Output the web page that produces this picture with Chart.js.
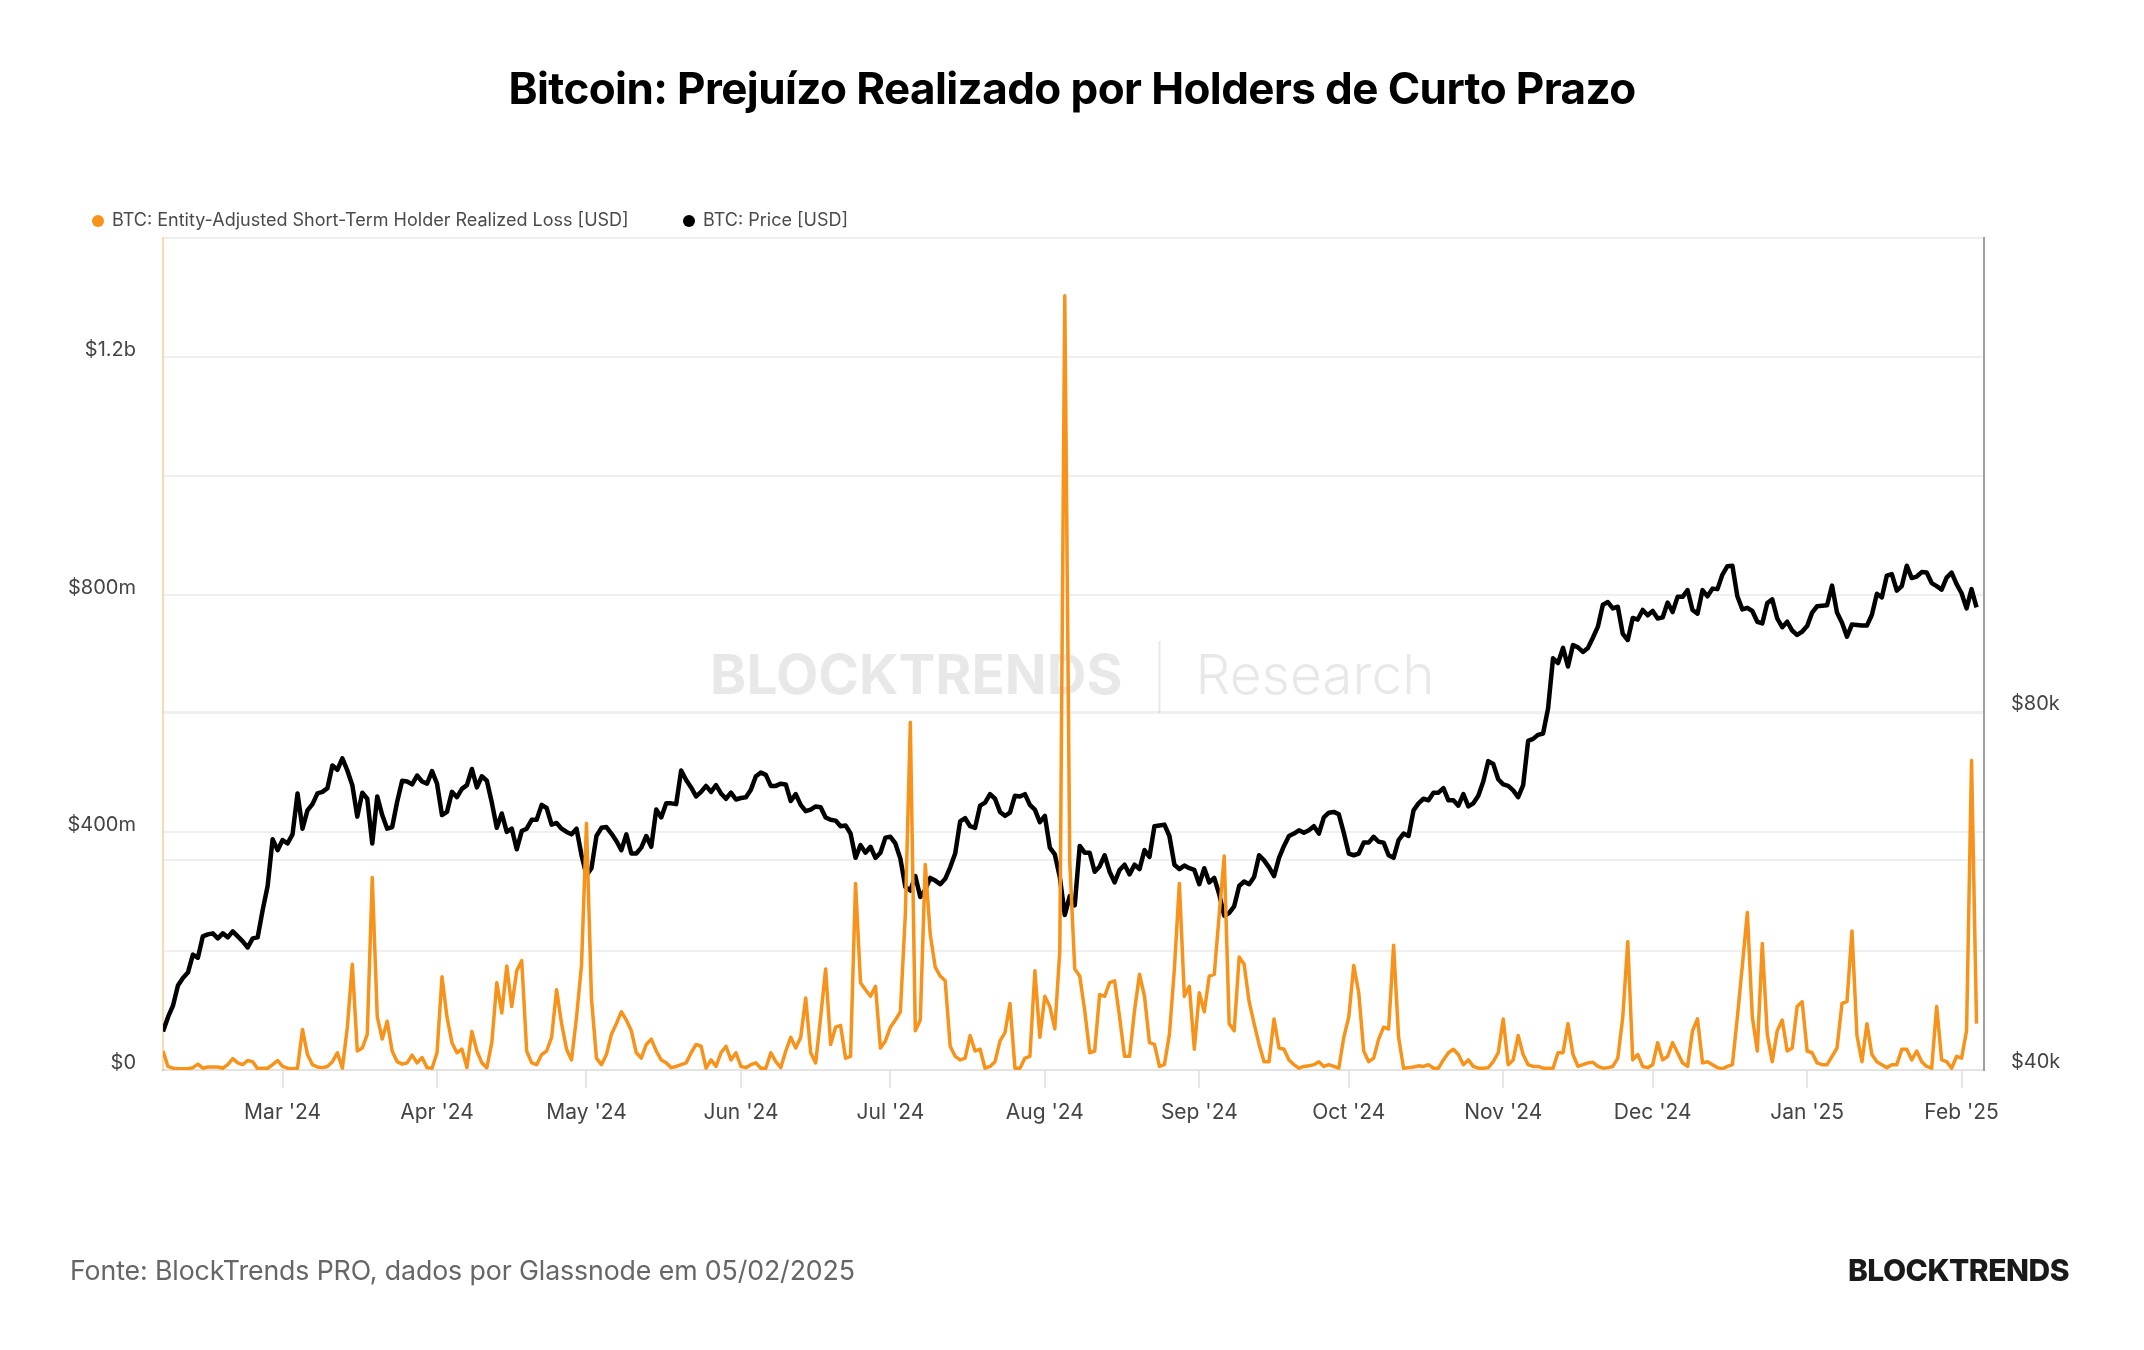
<!DOCTYPE html>
<html>
<head>
<meta charset="utf-8">
<title>Bitcoin: Prejuízo Realizado por Holders de Curto Prazo</title>
<script src="https://cdn.jsdelivr.net/npm/chart.js@4.4.1/dist/chart.umd.min.js"></script>
<style>
  html, body { margin: 0; padding: 0; background: #fff; }
  #page { position: relative; width: 2144px; height: 1350px; overflow: hidden; font-family: Inter, 'Noto Sans', sans-serif; }
  #chart { position: absolute; left: 0; top: 0; }
  .title { position: absolute; top: 62px; left: 0; width: 100%; text-align: center; font-size: 44px; line-height: 52px; font-weight: 700; letter-spacing: -0.6px; color: #000; }
  .legend-item { position: absolute; top: 208px; height: 24px; line-height: 24px; font-size: 18px; color: #4a4a4a; white-space: nowrap; }
  .legend-item .dot { display: inline-block; width: 12px; height: 12px; border-radius: 50%; margin-right: 8px; vertical-align: -1px; }
  .footer { position: absolute; top: 1253px; left: 70px; font-size: 26.7px; line-height: 34px; letter-spacing: -0.1px; color: #666; }
  .logo { position: absolute; top: 1253px; right: 75px; font-size: 30px; line-height: 34px; font-weight: 800; letter-spacing: -0.5px; color: #1a1a1a; }
</style>
</head>
<body>
<div id="page">
  <canvas id="chart" width="2144" height="1350"></canvas>
  <div class="title">Bitcoin: Prejuízo Realizado por Holders de Curto Prazo</div>
  <div class="legend-item" style="left:92px"><span class="dot" style="background:#f7931a"></span>BTC: Entity-Adjusted Short-Term Holder Realized Loss [USD]</div>
  <div class="legend-item" style="left:683px"><span class="dot" style="background:#000"></span>BTC: Price [USD]</div>
  <div class="footer">Fonte: BlockTrends PRO, dados por Glassnode em 05/02/2025</div>
  <div class="logo">BLOCKTRENDS</div>
</div>
<script>
// daily series, first day 2024-02-06, last day 2025-02-04
const startDate = '2024-02-06';

const monthStarts = ['2024-03-01', '2024-04-01', '2024-05-01', '2024-06-01', '2024-07-01', '2024-08-01',
                     '2024-09-01', '2024-10-01', '2024-11-01', '2024-12-01', '2025-01-01', '2025-02-01'];
const monthLabels = ["Mar '24", "Apr '24", "May '24", "Jun '24", "Jul '24", "Aug '24",
                     "Sep '24", "Oct '24", "Nov '24", "Dec '24", "Jan '25", "Feb '25"];

// short-term holder realized loss, millions USD
const realizedLossM = [
  32, 6, 3, 2, 2, 2, 4, 10, 3, 5,
  5, 5, 3, 9, 19, 12, 9, 16, 14, 2,
  3, 3, 9, 16, 6, 3, 2, 3, 68, 26,
  9, 5, 4, 6, 14, 29, 3, 72, 178, 32,
  37, 60, 324, 90, 52, 82, 32, 14, 10, 12,
  25, 12, 21, 4, 3, 29, 157, 89, 46, 29,
  35, 4, 65, 32, 12, 4, 46, 147, 96, 175,
  107, 167, 184, 32, 12, 9, 26, 32, 55, 135,
  78, 35, 17, 89, 176, 415, 120, 20, 9, 26,
  60, 78, 98, 84, 66, 29, 20, 43, 52, 32,
  17, 12, 4, 6, 9, 12, 29, 43, 40, 3,
  17, 6, 29, 40, 17, 29, 6, 4, 9, 12,
  3, 3, 29, 14, 4, 32, 55, 37, 55, 121,
  29, 12, 89, 170, 43, 72, 75, 20, 23, 314,
  147, 135, 124, 141, 37, 49, 72, 84, 98, 262,
  585, 66, 84, 346, 228, 173, 158, 150, 40, 23,
  17, 20, 58, 32, 35, 3, 6, 14, 49, 63,
  112, 3, 3, 20, 23, 167, 55, 124, 107, 69,
  200, 1303, 350, 170, 158, 100, 29, 32, 127, 124,
  147, 150, 89, 23, 23, 100, 161, 124, 46, 43,
  6, 9, 60, 170, 314, 124, 141, 35, 130, 98,
  158, 161, 262, 360, 78, 66, 190, 178, 115, 78,
  43, 14, 14, 86, 37, 35, 17, 9, 3, 6,
  7, 9, 14, 6, 9, 6, 3, 55, 89, 176,
  130, 32, 14, 20, 52, 72, 69, 210, 55, 3,
  4, 5, 7, 6, 9, 3, 3, 17, 29, 35,
  26, 9, 17, 6, 3, 3, 4, 14, 29, 86,
  9, 17, 58, 26, 9, 6, 6, 3, 3, 3,
  29, 29, 78, 26, 6, 9, 12, 13, 6, 3,
  4, 6, 20, 89, 216, 17, 26, 6, 4, 9,
  46, 17, 23, 46, 29, 12, 6, 66, 86, 12,
  14, 9, 4, 2, 6, 9, 89, 176, 265, 89,
  32, 213, 60, 14, 66, 84, 32, 37, 107, 115,
  32, 29, 12, 9, 9, 23, 37, 112, 115, 234,
  58, 14, 78, 26, 14, 9, 4, 9, 9, 35,
  35, 17, 32, 14, 6, 3, 107, 17, 14, 3,
  23, 20, 66, 521, 78
];

// BTC price, thousands USD
const priceK = [
  43.1, 44.3, 45.3, 47.1, 47.8, 48.3, 50.0, 49.7, 51.8, 52.0,
  52.1, 51.6, 52.1, 51.7, 52.3, 51.8, 51.3, 50.7, 51.6, 51.7,
  54.5, 57.1, 62.5, 61.2, 62.4, 62.0, 63.1, 68.3, 63.8, 66.1,
  66.9, 68.3, 68.5, 69.0, 72.1, 71.5, 73.1, 71.4, 69.4, 65.3,
  68.4, 67.6, 62.0, 67.9, 65.5, 63.8, 64.0, 67.2, 70.0, 69.9,
  69.5, 70.7, 69.9, 69.6, 71.3, 69.6, 65.5, 65.9, 68.5, 67.8,
  68.9, 69.4, 71.6, 69.1, 70.6, 70.0, 67.1, 63.9, 65.7, 63.4,
  63.8, 61.3, 63.5, 63.8, 64.9, 64.9, 66.8, 66.4, 64.3, 64.5,
  63.8, 63.4, 63.1, 63.8, 60.6, 58.3, 59.1, 62.9, 63.9, 64.0,
  63.2, 62.3, 61.2, 63.1, 60.8, 60.8, 61.5, 62.9, 61.6, 66.2,
  65.2, 67.0, 67.0, 66.9, 71.4, 70.1, 69.1, 67.9, 68.5, 69.3,
  68.5, 69.4, 68.3, 67.6, 68.4, 67.5, 67.7, 67.8, 68.8, 70.6,
  71.1, 70.8, 69.3, 69.3, 69.6, 69.5, 67.3, 68.2, 66.8, 66.0,
  66.2, 66.6, 66.5, 65.2, 64.9, 64.8, 64.1, 64.2, 63.2, 60.3,
  61.8, 60.9, 61.6, 60.3, 60.9, 62.7, 62.8, 62.0, 60.2, 57.0,
  56.6, 58.2, 55.9, 56.7, 58.0, 57.7, 57.3, 57.9, 59.2, 60.8,
  64.7, 65.1, 64.1, 63.9, 66.7, 67.1, 68.2, 67.6, 65.9, 65.4,
  65.8, 68.0, 67.9, 68.2, 66.8, 66.2, 64.6, 65.4, 61.5, 60.7,
  58.1, 54.0, 56.0, 55.0, 61.7, 60.9, 60.9, 58.7, 59.3, 60.6,
  58.7, 57.5, 58.9, 59.5, 58.4, 59.5, 59.0, 61.2, 60.4, 64.1,
  64.2, 64.3, 62.9, 59.5, 59.0, 59.4, 59.1, 58.9, 57.3, 59.1,
  57.5, 58.0, 56.2, 53.9, 54.2, 54.9, 57.1, 57.6, 57.3, 58.1,
  60.6, 60.0, 59.2, 58.2, 60.3, 61.7, 62.9, 63.2, 63.6, 63.3,
  63.6, 64.1, 63.2, 65.2, 65.8, 65.9, 65.6, 63.3, 60.8, 60.6,
  60.8, 62.1, 62.1, 62.8, 62.2, 62.1, 60.6, 60.3, 62.4, 63.2,
  62.9, 66.1, 67.0, 67.6, 67.4, 68.4, 68.4, 69.0, 67.4, 67.4,
  66.7, 68.2, 66.6, 67.0, 68.0, 69.9, 72.7, 72.3, 70.2, 69.5,
  69.3, 68.7, 67.8, 69.4, 75.6, 75.9, 76.5, 76.7, 80.5, 88.7,
  87.9, 90.5, 87.3, 91.0, 90.6, 89.8, 90.5, 92.3, 94.3, 98.4,
  98.9, 97.7, 98.0, 93.0, 91.9, 95.9, 95.6, 97.4, 96.4, 97.2,
  95.8, 96.0, 98.8, 97.0, 99.9, 99.9, 101.2, 97.4, 96.7, 101.2,
  100.0, 101.5, 101.4, 104.3, 106.0, 106.1, 100.0, 97.5, 97.8, 97.2,
  95.2, 94.9, 98.7, 99.4, 95.8, 94.2, 95.2, 93.6, 92.8, 93.4,
  94.4, 96.9, 98.1, 98.2, 98.3, 102.1, 96.9, 95.0, 92.5, 94.7,
  94.6, 94.5, 94.5, 96.5, 100.5, 99.8, 104.1, 104.4, 101.1, 102.0,
  106.1, 103.6, 103.9, 104.8, 104.7, 102.6, 102.0, 101.3, 103.7, 104.7,
  102.4, 100.6, 97.7, 101.4, 97.9
];

const lossTicks = [0, 2e8, 4e8, 6e8, 8e8, 1e9, 1.2e9, 1.4e9];
const lossTickLabels = ['$0', '', '$400m', '', '$800m', '', '$1.2b', ''];
const priceTicks = [40000, 60000, 80000];
const priceTickLabels = ['$40k', '', '$80k'];

const DAY = 86400000;
const dayIndex = (d) => Math.round((Date.parse(d) - Date.parse(startDate)) / DAY);
const monthIdx = monthStarts.map(dayIndex);

Chart.defaults.font.family = 'Inter, "Noto Sans", sans-serif';

// faint BLOCKTRENDS | Research mark behind the lines
const watermark = {
  id: 'watermark',
  beforeDatasetsDraw(chart) {
    const { ctx, chartArea } = chart;
    const barX = (chartArea.left + chartArea.right) / 2 + 86;
    const y = chartArea.top + 439;
    ctx.save();
    ctx.fillStyle = 'rgba(0,0,0,0.09)';
    ctx.textBaseline = 'middle';
    ctx.font = '700 55px Inter';
    ctx.textAlign = 'right';
    ctx.fillText('BLOCKTRENDS', barX - 37, y);
    ctx.font = '300 55px Inter';
    ctx.textAlign = 'left';
    ctx.fillText('Research', barX + 36, y);
    ctx.fillRect(barX - 1, y - 36, 2, 72);
    ctx.restore();
  }
};

const ctx = document.getElementById('chart').getContext('2d');

new Chart(ctx, {
  type: 'line',
  data: {
    datasets: [{
      label: 'BTC: Entity-Adjusted Short-Term Holder Realized Loss [USD]',
      data: realizedLossM.map((v, i) => ({ x: i, y: v * 1e6 })),
      yAxisID: 'yLoss',
      borderColor: '#f7931a',
      borderWidth: 3.5,
      pointRadius: 0,
      tension: 0,
      borderJoinStyle: 'round'
    }, {
      label: 'BTC: Price [USD]',
      data: priceK.map((v, i) => ({ x: i, y: v * 1000 })),
      yAxisID: 'yPrice',
      borderColor: '#000',
      borderWidth: 4.5,
      pointRadius: 0,
      tension: 0,
      borderJoinStyle: 'round'
    }]
  },
  options: {
    responsive: false,
    animation: false,
    layout: { padding: { top: 238, bottom: 210, left: 0, right: 0 } },
    scales: {
      x: {
        type: 'linear',
        min: 0,
        max: 365.5,
        afterBuildTicks: (axis) => { axis.ticks = monthIdx.map(v => ({ value: v })); },
        afterFit: (axis) => { axis.height = 70; },
        grid: { drawOnChartArea: false, drawTicks: true, tickLength: 18, color: '#e6e6e6', lineWidth: 2 },
        border: { color: '#e3e3e3', width: 2 },
        ticks: {
          autoSkip: false,
          maxRotation: 0,
          padding: 12,
          color: '#444',
          font: { size: 21 },
          callback: (val, index) => monthLabels[index]
        }
      },
      yLoss: {
        type: 'linear',
        position: 'left',
        min: 0,
        max: 1.4e9,
        afterBuildTicks: (axis) => { axis.ticks = lossTicks.map(v => ({ value: v })); },
        afterFit: (axis) => { axis.width = 163; },
        grid: { drawTicks: false, color: '#efefef', lineWidth: 2 },
        border: { color: 'rgba(247,147,26,0.35)', width: 2 },
        ticks: {
          padding: 27,
          labelOffset: -7,
          color: '#444',
          font: { size: 20 },
          callback: (val, index) => lossTickLabels[index]
        }
      },
      yPrice: {
        type: 'logarithmic',
        position: 'right',
        min: 40000,
        max: 200000,
        afterBuildTicks: (axis) => { axis.ticks = priceTicks.map(v => ({ value: v })); },
        afterFit: (axis) => { axis.width = 160; },
        grid: { drawTicks: false, color: '#efefef', lineWidth: 2 },
        border: { color: '#9e9e9e', width: 2 },
        ticks: {
          padding: 27,
          labelOffset: -8,
          color: '#444',
          font: { size: 20 },
          callback: (val, index) => priceTickLabels[index]
        }
      }
    },
    plugins: {
      legend: { display: false },
      tooltip: { enabled: false }
    }
  },
  plugins: [watermark]
});
</script>
</body>
</html>
